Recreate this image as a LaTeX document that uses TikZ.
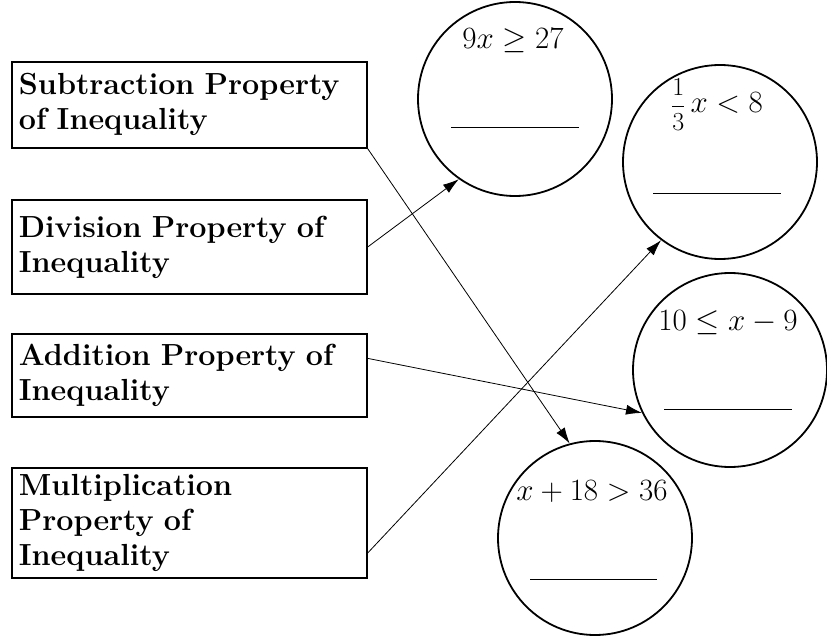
\RequirePackage{fix-cm}
\documentclass[tikz,border=0pt]{standalone}
\usepackage{amsmath, amssymb}
\usetikzlibrary{arrows.meta}

\begin{document}
\begin{tikzpicture}[x=1pt, y=-1pt,
		propbox/.style={draw, line width=1.8pt, anchor=north west, text width=341pt, inner xsep=7pt, inner ysep=0pt, align=left, font=\fontsize{30.5}{35}\selectfont\bfseries},
		eqcirc/.style={circle, draw, line width=1.8pt, minimum size=194pt, inner sep=0pt},
		eqtext/.style={anchor=base, inner sep=0pt, font=\fontsize{31}{36}\selectfont},
		link/.style={line width=0.8pt, -{Latex[length=16pt,width=10pt]}}]
			\useasboundingbox (0,0) rectangle (827,636);
			
			\node[propbox, minimum height=86pt] (sub) at (11,61) {Subtraction Property\\of Inequality};
			\node[propbox, minimum height=94pt] (div) at (11,199) {Division Property of\\Inequality};
			\node[propbox, minimum height=83pt] (add) at (11,333) {Addition Property of\\Inequality};
			\node[propbox, minimum height=110pt] (mul) at (11,467) {Multiplication\\Property of\\Inequality};
			
			\node[eqcirc] (c1) at (515,99) {};
			\node[eqcirc] (c2) at (720,162) {};
			\node[eqcirc] (c3) at (730,370) {};
			\node[eqcirc] (c4) at (595,538) {};
			
			\node[eqtext] (t1) at (513,49) {$9x \geq 27$};
			\node[eqtext] (t2) at (717,113) {$\mbox{\fontsize{26}{30}\selectfont$\dfrac{1}{3}$}\,x < 8$};
			\node[eqtext] (t3) at (728,330) {$10 \leq x - 9$};
			\node[eqtext] (t4) at (592,500) {$x + 18 > 36$};
			
			% answer blanks
			\draw[line width=0.8pt] ([xshift=-64pt,yshift=-28pt]c1.center) -- ++(128,0);
			\draw[line width=0.8pt] ([xshift=-67pt,yshift=-31pt]c2.center) -- ++(128,0);
			\draw[line width=0.8pt] ([xshift=-66pt,yshift=-39pt]c3.center) -- ++(128,0);
			\draw[line width=0.8pt] ([xshift=-65pt,yshift=-41pt]c4.center) -- ++(127,0);
			
			\draw[link] (sub.south east) -- (c4.105);
			\draw[link] (div.east) -- (c1.235);
			\draw[link] ([yshift=17pt]add.east) -- (c3.206);
			\draw[link] ([yshift=-30pt]mul.east) -- (c2.233);
		\end{tikzpicture}
\end{document}
